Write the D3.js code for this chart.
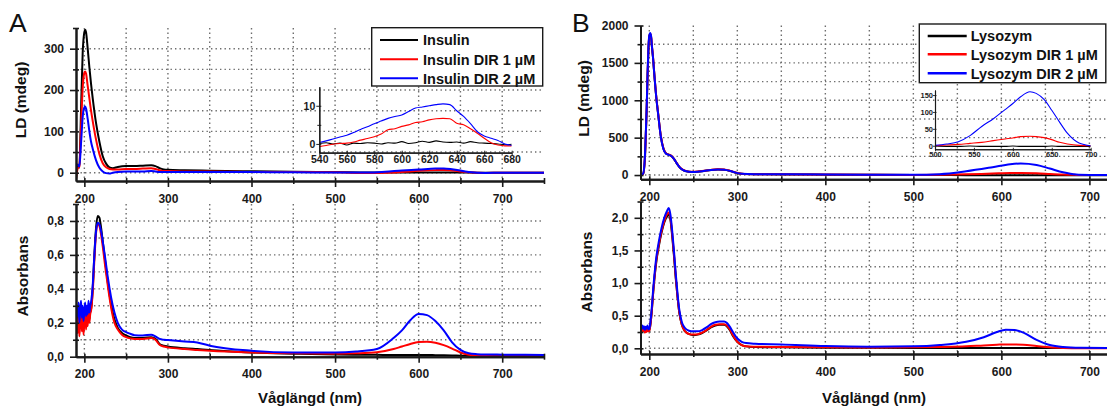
<!DOCTYPE html>
<html>
<head>
<meta charset="utf-8">
<script src="https://cdn.jsdelivr.net/npm/d3@7"></script>
<style>
body { margin: 0; background: #fff; }
svg { display: block; font-family: "Liberation Sans", Arial, sans-serif; }
</style>
</head>
<body>
<svg width="1107" height="410"></svg>
<script>
/////////////////////////
// Data
/////////////////////////

var namesA = ["Insulin", "Insulin DIR 1 µM", "Insulin DIR 2 µM"];
var namesB = ["Lysozym", "Lysozym DIR 1 µM", "Lysozym DIR 2 µM"];
var colors = ["#000000", "#ff0000", "#0000ff"];

// A - LD
var nmLdA = [190,192,194,196,198,200,201,202,204,206,208,210,214,218,222,226,230,234,240,250,260,270,280,285,290,295,300,320,350,400,450,500,540,560,580,600,620,630,640,660,680,700,750];
var ldInsulin = [-17,18,12,150,290,340,346,340,300,255,215,180,120,75,40,22,13,11,14,16,16,17,18,16,11,8,7,6,5,3.5,2.5,1.5,0.5,0.5,0.5,0.5,0.5,0.5,0.5,0.3,0,0,0];
var ldInsulinDir1 = [-15,10,15,110,205,242,245,240,210,180,150,125,80,45,23,13,9,8,8,9,9,10,11,9,6,4,4,3,3,2,1.5,1,-0.7,0.2,1.9,4.6,6.3,6.7,5.4,1,-0.5,0,0];
var ldInsulinDir2 = [15,20,15,70,135,158,160,155,130,100,75,58,30,12,3,-1,-2,0,2,3,3,3,4,3,2,2,2,2,2,1.5,1,0.5,0.4,2.3,5.3,7.6,10,10.5,8.7,1.9,-0.4,0,0];

// A - LD inset
var nmInsetA = [540,545,550,555,560,565,570,575,580,585,590,595,600,605,610,615,620,625,630,635,640,645,650,655,660,665,670,675,680];
var insetInsulin = [0.1,0.3,0.0,0.2,-0.3,0.2,0.1,0.3,0.2,0.0,0.3,0.2,0.6,0.1,0.3,0.7,0.4,0.8,0.5,0.4,0.5,0.2,0.6,0.3,0.2,0.1,0.0,-0.2,-0.1];
var insetInsulinDir1 = [-0.7,-0.4,-0.1,0.1,0.2,0.5,1.0,1.4,1.9,2.6,3.7,4.0,4.6,5.0,5.6,5.8,6.3,6.6,6.7,6.6,5.4,5.0,4.0,2.8,1.5,0.3,-0.3,-0.5,-0.5];
var insetInsulinDir2 = [0.35,0.8,1.3,1.8,2.3,3.0,3.8,4.5,5.3,6.0,6.7,7.2,7.6,8.5,9.4,9.7,10.0,10.3,10.5,10.3,8.7,7.2,5.3,3.2,2.1,1.5,0.9,0.0,-0.4];

// A - absorbans
var nmAbsA = [190,191,192,193,194,195,196,197,198,199,200,201,202,203,204,205,206,207,208,210,212,214,216,218,220,222,225,228,232,236,240,245,250,255,260,270,280,285,290,295,300,320,335,350,400,450,500,525,550,570,580,590,600,610,620,630,640,650,660,670,680,700,750];
var absInsulin = [0.18,0.26,0.2,0.28,0.17,0.24,0.3,0.2,0.27,0.16,0.22,0.29,0.19,0.25,0.21,0.3,0.22,0.27,0.28,0.4,0.6,0.76,0.83,0.82,0.76,0.68,0.56,0.44,0.31,0.22,0.17,0.14,0.125,0.115,0.11,0.11,0.115,0.105,0.075,0.065,0.06,0.05,0.045,0.04,0.025,0.018,0.013,0.012,0.011,0.01,0.01,0.01,0.01,0.01,0.009,0.008,0.007,0.006,0.005,0.005,0.004,0.004,0.003];
var absInsulinDir1 = [0.1,0.22,0.14,0.25,0.12,0.2,0.26,0.15,0.23,0.13,0.21,0.27,0.16,0.24,0.18,0.27,0.2,0.25,0.27,0.38,0.57,0.73,0.78,0.77,0.72,0.65,0.53,0.42,0.29,0.2,0.16,0.13,0.115,0.108,0.105,0.105,0.11,0.1,0.07,0.06,0.055,0.045,0.04,0.035,0.025,0.02,0.018,0.02,0.026,0.045,0.06,0.075,0.086,0.088,0.082,0.068,0.048,0.025,0.012,0.006,0.004,0.003,0.003];
var absInsulinDir2 = [0.22,0.3,0.24,0.32,0.2,0.28,0.33,0.23,0.3,0.21,0.27,0.32,0.24,0.3,0.25,0.33,0.26,0.3,0.32,0.42,0.6,0.74,0.79,0.78,0.74,0.68,0.58,0.47,0.35,0.26,0.2,0.16,0.145,0.135,0.127,0.125,0.13,0.12,0.105,0.1,0.098,0.09,0.084,0.065,0.035,0.025,0.025,0.03,0.045,0.11,0.155,0.215,0.252,0.245,0.21,0.155,0.085,0.04,0.02,0.015,0.013,0.012,0.01];

// B - LD
var nmLdB = [190,193,195,196,197,198,199,200,201,202,203,204,206,208,210,213,216,219,222,225,228,231,234,238,242,248,255,262,270,278,285,292,298,305,320,350,400,450,500,530,560,590,610,622,640,655,670,685,700,720];
var ldLysozym = [0,15,220,520,870,1320,1670,1850,1880,1845,1710,1595,1300,1030,820,525,355,288,272,255,215,160,110,70,50,42,45,55,68,74,71,54,31,17,11,8,5,3,1,0,-2,-2,-2,-2,-2,-2,-2,-2,-2,-2];
var ldLysozymDir1 = [0,15,230,530,880,1330,1680,1860,1890,1855,1725,1610,1310,1040,830,530,360,292,275,258,218,163,112,72,52,43,46,56,69,76,73,56,33,18,12,9,6,4,2,4,10,20,27,28,24,15,6,2,0,0];
var ldLysozymDir2 = [0,20,250,550,900,1350,1700,1870,1900,1860,1720,1600,1300,1030,820,520,350,285,270,255,215,160,110,70,50,42,45,55,68,75,72,55,32,18,12,10,7,5,4,12,50,105,145,155,135,87,37,8,2,0];

// B - LD inset
var nmInsetB = [500,515,530,545,560,575,590,600,610,622,630,640,650,660,670,685,700];
var insetLysozym = [-1,-2,-2,-1,-2,-2,-2,-1,-2,-2,-2,-2,-1,-2,-2,-2,-2];
var insetLysozymDir1 = [0,2,4,7,10,15,20,23,27,28,27,24,18,10,5,1,0];
var insetLysozymDir2 = [1,5,12,30,57,80,107,125,145,160,155,137,105,70,37,8,0];

// B - absorbans
var nmAbsB = [190,191,192,193,194,195,196,197,198,199,200,202,205,208,211,214,217,220,222,224,226,228,230,232,234,237,240,245,250,255,260,265,270,275,280,285,288,291,295,300,305,310,320,350,400,450,500,530,560,580,595,605,615,625,640,655,670,690,720];
var absLysozym = [0.29,0.26,0.31,0.27,0.3,0.26,0.29,0.27,0.31,0.27,0.27,0.45,0.95,1.33,1.58,1.78,1.93,2.02,2.05,1.97,1.72,1.42,1.08,0.79,0.55,0.36,0.27,0.22,0.2,0.21,0.235,0.275,0.32,0.35,0.36,0.36,0.34,0.29,0.19,0.1,0.05,0.03,0.02,0.015,0.01,0.008,0.006,0.006,0.006,0.006,0.006,0.006,0.006,0.006,0.005,0.005,0.005,0.005,0.005];
var absLysozymDir1 = [0.27,0.25,0.29,0.26,0.3,0.24,0.28,0.25,0.3,0.26,0.26,0.45,0.95,1.35,1.6,1.8,1.95,2.05,2.08,2.0,1.75,1.45,1.1,0.8,0.56,0.36,0.27,0.22,0.21,0.215,0.24,0.28,0.33,0.36,0.37,0.37,0.35,0.3,0.2,0.1,0.05,0.03,0.025,0.02,0.015,0.012,0.015,0.02,0.03,0.045,0.055,0.06,0.06,0.055,0.035,0.015,0.005,0,0];
var absLysozymDir2 = [0.33,0.29,0.35,0.3,0.34,0.28,0.33,0.3,0.35,0.29,0.3,0.5,1.0,1.4,1.65,1.85,2.0,2.1,2.15,2.05,1.8,1.5,1.15,0.85,0.6,0.4,0.32,0.27,0.26,0.26,0.28,0.32,0.37,0.4,0.41,0.41,0.39,0.34,0.25,0.15,0.1,0.08,0.07,0.06,0.035,0.025,0.03,0.05,0.1,0.17,0.25,0.285,0.28,0.24,0.13,0.05,0.02,0.008,0.005];

// ticks
var xMajor = [200, 300, 400, 500, 600, 700];
var xMinorA = [250, 350, 450, 550, 650, 750];
var xMinorB = [250, 350, 450, 550, 650];
var xGrid = [200, 250, 300, 350, 400, 450, 500, 550, 600, 650, 700];

var svg = d3.select("svg");
var clipN = 0;
var comma = function(f) { return function(d) { return d3.format(f)(d).replace(".", ","); }; };

//////////////////////////
// one plot: grid, lines, axes
//////////////////////////
function drawPlot(p) {
    var x = d3.scaleLinear().domain(p.xDom).range([p.left, p.right]);
    var y = d3.scaleLinear().domain(p.yDom).range([p.bottom, p.top]);
    var g = svg.append("g");

    if (p.grid) {
	g.append("g").selectAll("line")
	    .data(p.xGrid).enter().append("line")
	    .attr("x1", d => x(d)).attr("x2", d => x(d))
	    .attr("y1", p.top).attr("y2", p.bottom)
	    .attr("stroke", "#6e6e6e").attr("stroke-width", 1.4)
	    .attr("stroke-dasharray", "1.4,3.1");
	g.append("g").selectAll("line")
	    .data(p.yGrid).enter().append("line")
	    .attr("y1", d => y(d)).attr("y2", d => y(d))
	    .attr("x1", p.left).attr("x2", p.right)
	    .attr("stroke", "#6e6e6e").attr("stroke-width", 1.4)
	    .attr("stroke-dasharray", "1.4,3.1");
    }

    var id = "clip" + (clipN++);
    svg.append("clipPath").attr("id", id).append("rect")
	.attr("x", p.left).attr("y", p.top - 2)
	.attr("width", p.right - p.left).attr("height", p.bottom - p.top + 2);

    var line = d3.line()
	.x((d, i) => x(p.nm[i]))
	.y(d => y(d))
	.curve(d3.curveMonotoneX);

    g.append("g").attr("clip-path", "url(#" + id + ")")
	.selectAll("path")
	.data(p.series).enter().append("path")
	.attr("d", line)
	.attr("fill", "none")
	.attr("stroke", (d, i) => colors[i])
	.attr("stroke-width", p.lw)
	.attr("stroke-linejoin", "round");

    // x axis
    var ax = g.append("g").attr("transform", "translate(0," + p.bottom + ")");
    ax.append("g").call(d3.axisBottom(x).tickValues(p.xMinor).tickFormat("").tickSize(p.tk[1]).tickSizeOuter(0))
	.selectAll(".tick line").attr("y1", -p.tk[1]);
    ax.append("g").call(d3.axisBottom(x).tickValues(p.xMajor).tickFormat(p.xFmt).tickSize(p.tk[0]).tickSizeOuter(0).tickPadding(p.pad[0]))
	.attr("font-size", p.fs).attr("font-family", null).attr("font-weight", "bold")
	.selectAll(".tick line").attr("y1", -p.tk[1]);

    // y axis
    var ay = g.append("g").attr("transform", "translate(" + p.left + ",0)");
    ay.append("g").call(d3.axisLeft(y).tickValues(p.yMinor).tickFormat("").tickSize(p.tk[1]).tickSizeOuter(0))
	.selectAll(".tick line").attr("x1", p.tk[1]);
    ay.append("g").call(d3.axisLeft(y).tickValues(p.yMajor).tickFormat(p.yFmt).tickSize(p.tk[0]).tickSizeOuter(0).tickPadding(p.pad[1]))
	.attr("font-size", p.fs).attr("font-family", null).attr("font-weight", "bold")
	.selectAll(".tick line").attr("x1", p.tk[1]);

    g.selectAll(".domain").attr("stroke", "#1a1a1a").attr("stroke-width", p.aw);
    g.selectAll(".tick line").attr("stroke", "#1a1a1a").attr("stroke-width", p.aw * 0.8);
    g.selectAll(".tick text").attr("fill", "#1a1a1a");
}

function legend(lx, ly, w, h, rows, tx, lineX, names, lw) {
    var g = svg.append("g");
    g.append("rect").attr("x", lx).attr("y", ly).attr("width", w).attr("height", h)
	.attr("fill", "#fff").attr("stroke", "#1a1a1a").attr("stroke-width", 1.4);
    var it = g.selectAll(".it").data(names).enter().append("g")
	.attr("transform", (d, i) => "translate(0," + rows[i] + ")");
    it.append("line").attr("x1", lineX[0]).attr("x2", lineX[1])
	.attr("stroke", (d, i) => colors[i]).attr("stroke-width", lw);
    it.append("text").attr("x", tx).attr("dy", "0.36em")
	.attr("font-size", 14.5).attr("font-weight", "bold").attr("fill", "#111")
	.text(d => d);
}

function text(t, x, y, opt) {
    var e = svg.append("text").attr("x", x).attr("y", y).text(t)
	.attr("font-size", opt.fs).attr("font-weight", opt.fw || "bold")
	.attr("text-anchor", opt.anchor || "middle").attr("fill", "#111");
    if (opt.rot) e.attr("transform", "rotate(-90," + x + "," + y + ")");
    return e;
}

//////////////////////////
// Panel A
//////////////////////////
drawPlot({
    left: 76, right: 544, top: 28, bottom: 181,
    xDom: [190, 750], yDom: [-20, 350],
    xMajor: xMajor, xMinor: xMinorA, xGrid: xGrid,
    yMajor: [0, 100, 200, 300], yMinor: [50, 150, 250, 350], yGrid: [0, 50, 100, 150, 200, 250, 300],
    xFmt: d3.format("d"), yFmt: d3.format("d"),
    nm: nmLdA, series: [ldInsulin, ldInsulinDir1, ldInsulinDir2],
    grid: true, lw: 2, aw: 2, fs: 12, tk: [6, 3], pad: [7, 6]
});
drawPlot({
    left: 76, right: 544, top: 204, bottom: 356.7,
    xDom: [190, 750], yDom: [0, 0.9],
    xMajor: xMajor, xMinor: xMinorA, xGrid: xGrid,
    yMajor: [0, 0.2, 0.4, 0.6, 0.8], yMinor: [0.1, 0.3, 0.5, 0.7, 0.9], yGrid: [0.1, 0.2, 0.3, 0.4, 0.5, 0.6, 0.7, 0.8],
    xFmt: d3.format("d"), yFmt: comma(".1f"),
    nm: nmAbsA, series: [absInsulin, absInsulinDir1, absInsulinDir2],
    grid: true, lw: 2, aw: 2, fs: 12, tk: [6, 3], pad: [7, 6]
});
legend(371.7, 27.7, 171, 58.3, [40, 59.3, 78.3], 423, [380, 418], namesA, 2);
drawPlot({
    left: 319.3, right: 511.7, top: 86.7, bottom: 152.7,
    xDom: [540, 680], yDom: [-2.3, 15],
    xMajor: [540, 560, 580, 600, 620, 640, 660, 680], xMinor: [], xGrid: [],
    yMajor: [0, 10], yMinor: [5], yGrid: [],
    xFmt: d3.format("d"), yFmt: d3.format("d"),
    nm: nmInsetA, series: [insetInsulin, insetInsulinDir1, insetInsulinDir2],
    grid: false, lw: 1.1, aw: 1.2, fs: 10.5, tk: [3, 2], pad: [0, 1]
});

//////////////////////////
// Panel B
//////////////////////////
drawPlot({
    left: 640.5, right: 1107, top: 25.5, bottom: 179.3,
    xDom: [190, 720], yDom: [-57, 2000],
    xMajor: xMajor, xMinor: xMinorB, xGrid: xGrid,
    yMajor: [0, 500, 1000, 1500, 2000], yMinor: [250, 750, 1250, 1750], yGrid: [0, 250, 500, 750, 1000, 1250, 1500, 1750],
    xFmt: d3.format("d"), yFmt: d3.format("d"),
    nm: nmLdB, series: [ldLysozym, ldLysozymDir1, ldLysozymDir2],
    grid: true, lw: 2, aw: 2, fs: 12, tk: [6, 3], pad: [7, 6]
});
drawPlot({
    left: 640.5, right: 1107, top: 201.5, bottom: 354,
    xDom: [190, 720], yDom: [-0.087, 2.25],
    xMajor: xMajor, xMinor: xMinorB, xGrid: xGrid,
    yMajor: [0, 0.5, 1, 1.5, 2], yMinor: [0.25, 0.75, 1.25, 1.75, 2.25], yGrid: [0, 0.25, 0.5, 0.75, 1, 1.25, 1.5, 1.75, 2],
    xFmt: d3.format("d"), yFmt: comma(".1f"),
    nm: nmAbsB, series: [absLysozym, absLysozymDir1, absLysozymDir2],
    grid: true, lw: 2, aw: 2, fs: 12, tk: [6, 3], pad: [7, 6]
});
legend(919.3, 24, 186.5, 58.7, [36, 54.3, 73.3], 970.7, [927.7, 966.7], namesB, 2.6);
drawPlot({
    left: 935, right: 1090.7, top: 90, bottom: 149.3,
    xDom: [500, 700], yDom: [-10.6, 165],
    xMajor: [500, 550, 600, 650, 700], xMinor: [], xGrid: [],
    yMajor: [0, 50, 100, 150], yMinor: [], yGrid: [],
    xFmt: d3.format("d"), yFmt: d3.format("d"),
    nm: nmInsetB, series: [insetLysozym, insetLysozymDir1, insetLysozymDir2],
    grid: false, lw: 1.1, aw: 1.1, fs: 7.5, tk: [2, 1.5], pad: [0.5, 0]
});

//////////////////////////
// Titles and panel letters
//////////////////////////
text("A", 9, 32, { fs: 26.5, fw: "normal", anchor: "start" });
text("B", 572, 32, { fs: 26.5, fw: "normal", anchor: "start" });
text("LD (mdeg)", 26, 100, { fs: 15.5, rot: true });
text("Absorbans", 28, 276, { fs: 15.5, rot: true });
text("LD (mdeg)", 589, 98.5, { fs: 15.5, rot: true });
text("Absorbans", 592, 272, { fs: 15.5, rot: true });
text("Våglängd (nm)", 310, 403, { fs: 15 });
text("Våglängd (nm)", 874, 403, { fs: 15 });
</script>
</body>
</html>
